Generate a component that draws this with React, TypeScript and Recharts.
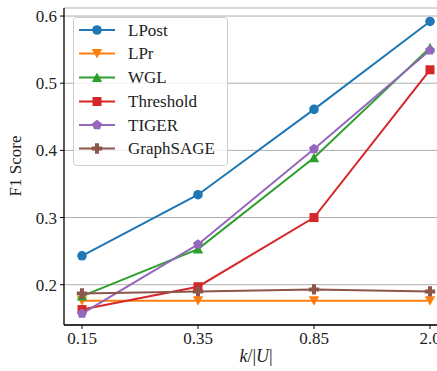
import React from 'react';
import { LineChart, Line, XAxis, YAxis, CartesianGrid } from 'recharts';

const categories = ['0.15', '0.35', '0.85', '2.0'];
const lpost = [0.243, 0.334, 0.461, 0.592];
const lpr = [0.176, 0.176, 0.176, 0.176];
const wgl = [0.183, 0.253, 0.389, 0.553];
const threshold = [0.163, 0.197, 0.3, 0.52];
const tiger = [0.157, 0.26, 0.402, 0.549];
const graphsage = [0.187, 0.19, 0.193, 0.19];
const yTicks = [0.2, 0.3, 0.4, 0.5, 0.6];

const seriesNames = ['LPost', 'LPr', 'WGL', 'Threshold', 'TIGER', 'GraphSAGE'];
const seriesValues = [lpost, lpr, wgl, threshold, tiger, graphsage];
const seriesColors = ['#1f77b4', '#ff7f0e', '#2ca02c', '#d62728', '#9467bd', '#8c564b'];
const seriesMarkers = ['circle', 'down', 'up', 'square', 'pentagon', 'plus'];

const data = categories.map((c, i) => {
  const row: Record<string, any> = { cat: c };
  seriesNames.forEach((n, j) => {
    row[n] = seriesValues[j][i];
  });
  return row;
});

const FONT = "'Liberation Serif', 'Times New Roman', serif";

function Marker({ cx, cy, kind, color }: { cx: number; cy: number; kind: string; color: string }) {
  if (cx == null || cy == null) return null;
  switch (kind) {
    case 'circle':
      return <circle cx={cx} cy={cy} r={4.8} fill={color} />;
    case 'down':
      return <polygon points={`${cx - 5.2},${cy - 4.5} ${cx + 5.2},${cy - 4.5} ${cx},${cy + 5}`} fill={color} />;
    case 'up':
      return <polygon points={`${cx - 5.2},${cy + 4.5} ${cx + 5.2},${cy + 4.5} ${cx},${cy - 5}`} fill={color} />;
    case 'square':
      return <rect x={cx - 4.5} y={cy - 4.5} width={9} height={9} fill={color} />;
    case 'pentagon': {
      const r = 5.2;
      const pts = [0, 1, 2, 3, 4]
        .map((k) => {
          const a = -Math.PI / 2 + (k * 2 * Math.PI) / 5;
          return `${cx + r * Math.cos(a)},${cy + r * Math.sin(a)}`;
        })
        .join(' ');
      return <polygon points={pts} fill={color} />;
    }
    case 'plus': {
      const a = 5.2;
      const w = 2;
      const pts = [
        [-w, -a], [w, -a], [w, -w], [a, -w], [a, w], [w, w], [w, a], [-w, a], [-w, w], [-a, w], [-a, -w], [-w, -w],
      ]
        .map(([x, y]) => `${cx + x},${cy + y}`)
        .join(' ');
      return <polygon points={pts} fill={color} />;
    }
    default:
      return null;
  }
}

function LegendBox() {
  const rowY = [13, 36.5, 60.5, 84.5, 108, 131.5];
  return (
    <svg width={155} height={149} style={{ position: 'absolute', left: 73, top: 17, display: 'block' }}>
      <rect x={0.5} y={0.5} width={154} height={148} rx={3} ry={3} fill="rgba(255,255,255,0.8)" stroke="#cccccc" strokeWidth={1} />
      {seriesNames.map((n, i) => (
        <g key={n}>
          <line x1={6} x2={42} y1={rowY[i]} y2={rowY[i]} stroke={seriesColors[i]} strokeWidth={2} />
          <Marker cx={24} cy={rowY[i]} kind={seriesMarkers[i]} color={seriesColors[i]} />
          <text x={55} y={rowY[i] + 5.5} style={{ fontFamily: FONT, fontSize: 17 }} fill="#222">
            {n}
          </text>
        </g>
      ))}
    </svg>
  );
}

const XLabel = (props: any) => {
  const vb = props.viewBox || { x: 64, width: 384 };
  const x = vb.x + vb.width / 2;
  return (
    <text x={x} y={362} textAnchor="middle" style={{ fontFamily: FONT, fontSize: 18 }} fill="#222">
      <tspan fontStyle="italic">k</tspan>
      <tspan>/|</tspan>
      <tspan fontStyle="italic">U</tspan>
      <tspan>|</tspan>
    </text>
  );
};

const YLabel = () => {
  const x = 21;
  const y = 166;
  return (
    <text x={x} y={y} textAnchor="middle" style={{ fontFamily: FONT, fontSize: 17 }} fill="#222" transform={`rotate(-90, ${x}, ${y})`}>
      F1 Score
    </text>
  );
};

export default function App() {
  return (
    <div style={{ position: 'fixed', left: 0, top: 0, width: 437, height: 371, overflow: 'hidden', background: '#fff' }}>
      <LineChart width={470} height={371} data={data} margin={{ top: 8, right: 22, bottom: 0, left: 0 }}>
        <CartesianGrid vertical={false} stroke="#b0b0b0" strokeWidth={1} />
        <XAxis
          dataKey="cat"
          type="category"
          height={46}
          padding={{ left: 18, right: 18 }}
          tickSize={4}
          tickMargin={3}
          tick={{ fontSize: 17, fill: '#222', style: { fontFamily: FONT } }}
          axisLine={{ stroke: '#000', strokeWidth: 1.3 }}
          tickLine={{ stroke: '#000', strokeWidth: 1 }}
          label={<XLabel />}
        />
        <XAxis
          xAxisId="top"
          dataKey="cat"
          orientation="top"
          height={0}
          tick={false}
          tickLine={false}
          axisLine={{ stroke: '#000', strokeWidth: 1.3 }}
        />
        <YAxis
          width={64}
          domain={[0.14, 0.612]}
          ticks={yTicks}
          allowDataOverflow
          tickFormatter={(v: number) => v.toFixed(1)}
          tickSize={4}
          tickMargin={3}
          tick={{ fontSize: 17, fill: '#222', style: { fontFamily: FONT } }}
          axisLine={{ stroke: '#000', strokeWidth: 1.3 }}
          tickLine={{ stroke: '#000', strokeWidth: 1 }}
          label={<YLabel />}
        />
        {seriesNames.map((n, i) => (
          <Line
            key={n}
            dataKey={n}
            name={n}
            stroke={seriesColors[i]}
            strokeWidth={2}
            isAnimationActive={false}
            dot={(p: any) => (
              <Marker key={`${n}-${p.index}`} cx={p.cx} cy={p.cy} kind={seriesMarkers[i]} color={seriesColors[i]} />
            )}
            activeDot={false}
          />
        ))}
      </LineChart>
      <LegendBox />
    </div>
  );
}
